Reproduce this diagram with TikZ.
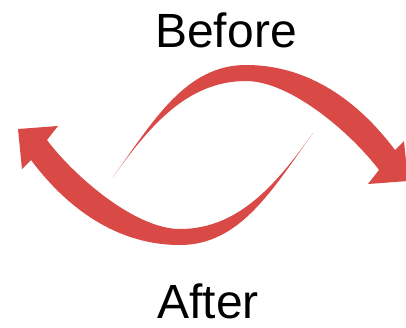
\documentclass[tikz,border=0pt]{standalone}
\usepackage{fontspec}
\setmainfont{Liberation Sans}
\definecolor{arrowred}{RGB}{217,74,70}
\tikzset{
  swoosh/.style={fill=arrowred, draw=none},
  label/.style={font=\fontsize{48}{58}\selectfont, inner sep=0pt, anchor=base, text=black}
}
\newcommand{\swooshpath}{%
  (313,133) .. controls (272.4,189.7) and (240,245) .. (180,245)
  .. controls (110,245) and (61,200) .. (31,160)
  -- (22,169) -- (18,129) -- (58,126) -- (47,140)
  .. controls (74,176) and (135,229) .. (180,229)
  .. controls (240,229) and (278,181.6) .. (313,133) -- cycle}
\begin{document}
\begin{tikzpicture}[x=1pt,y=-1pt]
  \useasboundingbox (0,0) rectangle (406,327);
  \clip (0,0) rectangle (406,327);
  \fill[white] (0,0) rectangle (406,327);
  % lower arrow (After), pointing up-left
  \fill[swoosh] \swooshpath;
  % upper arrow (Before), point symmetric
  \begin{scope}[rotate around={180:(213,155)}]
    \fill[swoosh] \swooshpath;
  \end{scope}
  \node[label] (before) at (226,47) {Before};
  \node[label] (after) at (208,318) {After};
\end{tikzpicture}
\end{document}
